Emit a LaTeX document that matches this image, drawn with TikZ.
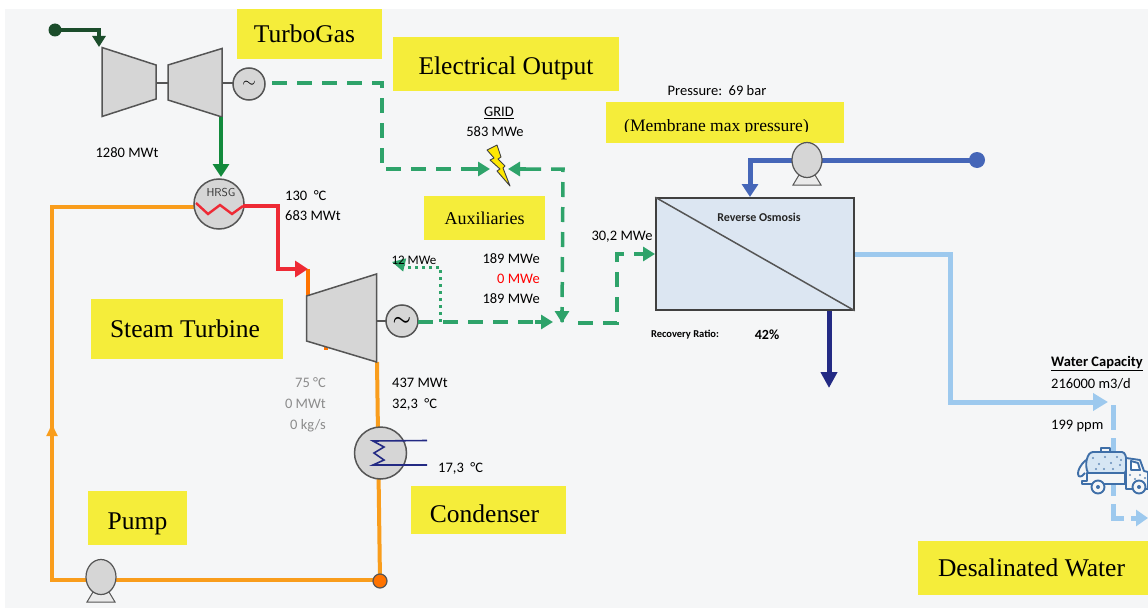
\documentclass[tikz,border=0pt]{standalone}
\usepackage{fontspec}
\setmainfont{Carlito}
\newfontfamily\boxfont{Liberation Serif}
\usetikzlibrary{arrows.meta,shapes.geometric}
\newcommand{\LINEPT}{3.5pt}
\newcommand{\PIPEPT}{4pt}
\definecolor{myback}{HTML}{F5F6F7}
\definecolor{myyellow}{HTML}{F5ED3A}
\definecolor{myorange}{HTML}{F99D1C}
\definecolor{myred}{HTML}{EE2A35}
\definecolor{mygreen}{HTML}{128A3C}
\definecolor{mydark}{HTML}{1B4D2B}
\definecolor{mydash}{HTML}{2EA36A}
\definecolor{myblue}{HTML}{4566B8}
\definecolor{mynavy}{HTML}{232A84}
\definecolor{mysky}{HTML}{9DC9EE}
\definecolor{mybox}{HTML}{DCE6F2}
\definecolor{mygrey}{HTML}{D6D6D6}
\definecolor{myline}{HTML}{555555}
\definecolor{mytruck}{HTML}{3F6FA8}
\tikzset{
	yellowbox/.style={fill=myyellow,inner sep=0pt,font=\boxfont\fontsize{25.5}{27}\selectfont},
	lbl/.style={inner sep=0pt,font=\fontsize{14.5}{16}\selectfont,text=black},
	lbll/.style={lbl,anchor=west},
	lblr/.style={lbl,anchor=east},
	machine/.style={draw=myline,fill=mygrey,line width=1.5pt,line join=miter},
	roundm/.style={circle,draw=myline,fill=mygrey,line width=1.5pt,inner sep=0pt},
	pumpbody/.style={ellipse,draw=myline,fill=mygrey,line width=1.2pt,minimum width=30pt,minimum height=35pt,inner sep=0pt},
	pumpfoot/.style={draw=myline,fill=mygrey!50,line width=1pt},
	dashline/.style={color=mydash,line width=\LINEPT,dash pattern=on 15pt off 10pt},
	bighead/.style={-{Triangle[length=13pt,width=16pt]}},
	smallhead/.style={-{Triangle[length=12pt,width=14pt]}},
	truckline/.style={draw=mytruck,line width=1.9pt,line join=round},
}
\begin{document}
\begin{tikzpicture}[x=1pt,y=-1pt]
	\useasboundingbox (0,0) rectangle (1148,610);
	\fill[myback] (5,9) rectangle (1148,608);

	%% coordinates
	\coordinate (gasin) at (55,30);
	\coordinate (gasin1) at (99,30);
	\coordinate (gasin2) at (99,47);
	\coordinate (gasout) at (221,117);
	\coordinate (redstart) at (243,206);
	\coordinate (redout) at (278,206);
	\coordinate (redin) at (278,269);
	\coordinate (redend) at (308,269);
	\coordinate (stage) at (308,296);
	\coordinate (pipeleft) at (52,207);
	\coordinate (pipecorner) at (52,580);
	\coordinate (mixerin) at (374,580);
	\coordinate (mixer) at (380,581);
	\coordinate (stout) at (377,362);
	\coordinate (bus1) at (382,83);
	\coordinate (bus2) at (382,169);
	\coordinate (bus3) at (563,169);
	\coordinate (bus4) at (562,322);
	\coordinate (bus5) at (617,323);
	\coordinate (bus6) at (617,254);
	\coordinate (tapup) at (440,267);
	\coordinate (tapdown) at (440,322);
	\coordinate (seawater) at (977,160);
	\coordinate (feed) at (750,160);
	\coordinate (permeate) at (950,254);
	\coordinate (permeate1) at (950,402);
	\coordinate (tank) at (1113,405);
	\coordinate (tank1) at (1113,518);

	%% yellow labels
	\node[yellowbox,minimum width=145pt,minimum height=50pt] (turbogas) at (309.5,34) {\hspace*{-10pt}TurboGas};
	\node[yellowbox,minimum width=226pt,minimum height=54pt] (elecout) at (506,64) {\smash{\raisebox{-10pt}{Electrical Output}}};
	\node[yellowbox,minimum width=238pt,minimum height=41pt] (membrane) at (725,122.5) {};
	\begin{scope}
		\clip (606,119) rectangle (844,131);
		\node[inner sep=0pt,anchor=base,font=\boxfont\fontsize{17.5}{20}\selectfont] (membranetxt) at (716.5,131) {(Membrane max pressure)};
	\end{scope}
	\node[yellowbox,minimum width=121pt,minimum height=44pt,font=\boxfont\fontsize{18}{20}\selectfont] (auxil) at (484.5,218) {Auxiliaries};
	\node[yellowbox,minimum width=192pt,minimum height=60pt] (steamturb) at (187,329) {\hspace*{-4pt}Steam Turbine};
	\node[yellowbox,minimum width=99pt,minimum height=54pt] (pumplbl) at (137.5,518) {\smash{\raisebox{-11pt}{Pump}}};
	\node[yellowbox,minimum width=155pt,minimum height=48pt] (condlbl) at (488.5,510) {\hspace*{-8pt}\smash{\raisebox{-12pt}{Condenser}}};
	\node[yellowbox,minimum width=230pt,minimum height=54pt] (desal) at (1033,568) {\hspace*{-3pt}Desalinated Water};

	%% water loop
	\draw[color=myorange,line width=\PIPEPT,line join=miter] (195,207) -- (pipeleft) -- (pipecorner) -- (mixerin);
	\draw[color=myorange,line width=\PIPEPT] (mixer) -- (stout);
	\draw[-{Triangle[length=12pt,width=11pt]},color=myorange,line width=2pt] (52,440) -- (52,424);
	\draw[color=orange!90!red,line width=\PIPEPT] (redend) -- (stage);
	\draw[color=orange!90!red,line width=\PIPEPT] (326,345) -- (326,350);
	\node[circle,draw=myline,fill=orange!90!red,line width=1.2pt,minimum size=14pt,inner sep=0pt] (mixerdot) at (mixer) {};

	%% gas turbine
	\fill[mydark] (gasin) circle (6.5);
	\draw[-{Triangle[length=11pt,width=13pt]},color=mydark,line width=\LINEPT,line join=miter] (gasin) -- (gasin1) -- (gasin2);
	\draw[myline,line width=1.2pt] (156,83) -- (168,83);
	\draw[myline,line width=1.2pt] (222,83) -- (233,83);
	\draw[machine] (102,47.5) -- (156,65) -- (156,99) -- (102,116.5) -- cycle;
	\draw[machine] (168,65) -- (222,48.5) -- (222,117) -- (168,100) -- cycle;
	\node[roundm,minimum size=32pt,font=\fontsize{16}{16}\selectfont] (gen1) at (249,84) {$\sim$};
	\draw[bighead,color=mygreen,line width=\LINEPT] (gasout) -- (221,177);

	%% HRSG
	\node[roundm,minimum size=50pt] (hrsg) at (219,204) {};
	\node[inner sep=0pt,font=\sffamily\fontsize{11.5}{12}\selectfont,text=black!80] (hrsgtxt) at (221,193) {HRSG};
	\draw[color=myred,line width=2.4pt] (196,203) -- (208,214) -- (220,205) -- (232,214) -- (redstart);
	\draw[bighead,color=myred,line width=\PIPEPT,line join=miter] (redstart) -- (redout) -- (redin) -- (redend);

	%% steam turbine
	\draw[myline,line width=1.2pt] (377,321) -- (386,321);
	\draw[machine] (306.5,296) -- (376.5,274) -- (376.5,362) -- (306.5,341) -- cycle;
	\node[roundm,minimum size=32pt,font=\fontsize{20}{20}\selectfont\boldmath] (gen2) at (402,321) {$\sim$};

	%% condenser
	\node[roundm,minimum size=52pt] (cond) at (380.5,453) {};
	\draw[color=mynavy,line width=1.6pt] (427,440.5) -- (373,441) -- (384,447) -- (374,453) -- (384,460) -- (373,465) -- (427,465);

	%% electrical lines
	\draw[dashline,line join=miter] (272,83) -- (bus1) -- (bus2) -- (474,169);
	\draw[smallhead,color=mydash,line width=\LINEPT] (474,169) -- (490,169);
	\draw[dashline,line join=miter] (bus4) -- (bus3) -- (526,169);
	\draw[smallhead,color=mydash,line width=\LINEPT] (526,169) -- (508,169);
	\draw[dashline] (418,322) -- (535,322);
	\draw[smallhead,color=mydash,line width=\LINEPT] (535,322) -- (553,322);
	\draw[smallhead,color=mydash,line width=\LINEPT] (562,310) -- (562,323);
	\draw[dashline,line join=miter] (578,323) -- (bus5) -- (bus6) -- (637,254);
	\draw[smallhead,color=mydash,line width=\LINEPT] (637,254) -- (655,254);
	\draw[color=mydash,line width=3pt,dash pattern=on 3pt off 4pt,line join=miter] (tapdown) -- (tapup) -- (405,267);
	\draw[-{Triangle[length=13pt,width=13pt]},color=mydash,line width=2pt] (405,265) -- (392,262);
	\draw[fill=yellow!90!orange,draw=black!75,line width=0.9pt,line join=round] (487,150) -- (497,145) -- (501,157) -- (498,159) -- (505,166) -- (503,168) -- (510,186) -- (497,171) -- (500,169) -- (490,160) -- (494,158) -- cycle;

	%% reverse osmosis
	\draw[mynavy,line width=5pt] (829,310) -- (829,372);
	\draw[-{Triangle[length=16pt,width=16pt]},color=mynavy,line width=5pt] (829,370) -- (829,388);
	\draw[color=mysky,line width=5pt,line join=miter] (854,254) -- (permeate) -- (permeate1) -- (1095,402);
	\draw[-{Triangle[length=15pt,width=17pt]},color=mysky,line width=5pt] (1090,402) -- (1108,402);
	\draw[color=mysky,line width=5pt,dash pattern=on 25pt off 8pt] (tank) -- (tank1) -- (1125,518);
	\draw[-{Triangle[length=12pt,width=16pt]},color=mysky,line width=5pt] (1131,518) -- (1148,518);
	\node[rectangle,draw=black!75,fill=mybox,line width=1.5pt,minimum width=198pt,minimum height=112pt,inner sep=0pt] (ro) at (755,254) {};
	\draw[myline,line width=1.5pt] (ro.north west) -- (ro.south east);
	\node[inner sep=0pt,font=\bfseries\fontsize{12}{12}\selectfont,text=black!85] (rotxt) at (759,217) {Reverse Osmosis};

	%% sea water feed
	\fill[myblue] (seawater) circle (8);
	\draw[bighead,color=myblue,line width=5pt,line join=miter] (seawater) -- (feed) -- (750,197);
	\draw[pumpfoot] (799,175) -- (815,175) -- (821,185) -- (793,185) -- cycle;
	\node[pumpbody] (ropump) at (807,160) {};

	%% feed pump
	\draw[pumpfoot] (93,592) -- (109,592) -- (115,602) -- (87,602) -- cycle;
	\node[pumpbody] (pump) at (101,577) {};

	%% tanker
	\draw[truckline,fill=mysky!35!myback] (1093,452) -- (1122,452) .. controls (1128,452) and (1128,473) .. (1124,473) -- (1088,473) .. controls (1084,465) and (1087,452) .. (1093,452);
	\draw[truckline] (1101,452) -- (1101,448) -- (1110,448) -- (1110,452);
	\draw[truckline] (1086,460) .. controls (1074,470) and (1077,483) .. (1085,473);
	\foreach \px/\py in {1093/458,1099/464,1105/457,1111/463,1117/457,1096/469,1104/469,1113/469,1120/465,1121/460} {
		\fill[mytruck!80] (\px,\py) circle (1.1);
	}
	\draw[truckline,fill=myback] (1087,473) -- (1125,473) -- (1125,484) -- (1082,484) -- (1082,481) -- (1087,481) -- cycle;
	\draw[truckline,fill=myback] (1126,458) -- (1140,460) -- (1144,471) -- (1148,472) -- (1148,489) -- (1126,489) -- cycle;
	\draw[truckline,fill=white] (1131,461) -- (1138,463) -- (1140,470) -- (1131,470) -- cycle;
	\foreach \px/\py in {1130/475,1135/479,1140/475,1145/478} {
		\fill[mytruck!80] (\px,\py) circle (1.1);
	}
	\draw[truckline,fill=myback] (1098,487) circle (6.5);
	\fill[mytruck] (1098,487) circle (2);
	\draw[truckline,fill=myback] (1139,487) circle (6.5);
	\fill[mytruck] (1139,487) circle (2);

	%% values
	\node[lbl] (gaspower) at (127,153) {1280 MWt};
	\node[lbll] (hrsgtemp) at (285,196) {130\ \ °C};
	\node[lbll] (hrsgpower) at (285,216) {683 MWt};
	\node[lbl] (gridname) at (499,113) {\underline{GRID}};
	\node[lbl] (gridpower) at (495,132) {583 MWe};
	\node[lbl,font=\fontsize{14.5}{15}\selectfont] (pressure) at (717,91) {Pressure:\ \ 69 bar};
	\node[lbl,font=\fontsize{13}{15}\selectfont] (auxpower) at (414,260) {12 MWe};
	\node[lblr] (elec1) at (540,259) {189 MWe};
	\node[lblr,text=red] (elec2) at (540,279) {0 MWe};
	\node[lblr] (elec3) at (540,299) {189 MWe};
	\node[lbl] (ropower) at (622,237) {30,2 MWe};
	\node[lbl,font=\bfseries\fontsize{10.5}{12}\selectfont] (recov) at (685,335) {Recovery Ratio:};
	\node[lbl,font=\bfseries\fontsize{14}{16}\selectfont] (recovval) at (767,335) {42\%};
	\node[lblr,text=black!45] (bleed1) at (326,383) {75 °C};
	\node[lblr,text=black!45] (bleed2) at (326,404) {0 MWt};
	\node[lblr,text=black!45] (bleed3) at (326,426) {0 kg/s};
	\node[lbll] (condpower) at (392,383) {437 MWt};
	\node[lbll] (condtemp) at (392,404) {32,3\ \ °C};
	\node[lbll] (cooltemp) at (438,468) {17,3\ \ °C};
	\node[lbll,font=\bfseries\fontsize{14.5}{16}\selectfont] (capname) at (1051,364) {\underline{Water Capacity}};
	\node[lbll] (capval) at (1051,384) {216000 m3/d};
	\node[lbll] (ppm) at (1051,426) {199 ppm};
\end{tikzpicture}
\end{document}
